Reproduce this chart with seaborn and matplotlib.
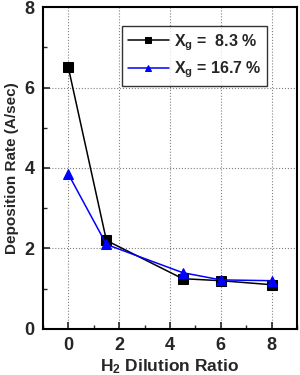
import numpy as np
import pandas as pd
import matplotlib
matplotlib.use("Agg")
import matplotlib.pyplot as plt
import seaborn as sb
from matplotlib.ticker import MultipleLocator

dilution = [0, 1.5, 4.5, 6, 8]
rate_83 = [6.5, 2.2, 1.25, 1.2, 1.1]
rate_167 = [3.85, 2.1, 1.4, 1.22, 1.2]
labels = ["X$_\\mathregular{g}$ =  8.3 %", "X$_\\mathregular{g}$ = 16.7 %"]

data = pd.DataFrame({
    "dilution": dilution * 2,
    "rate": rate_83 + rate_167,
    "series": [labels[0]] * 5 + [labels[1]] * 5,
})

sb.set_style("white")
plt.rcParams["font.family"] = ["Liberation Sans", "DejaVu Sans"]
plt.rcParams["font.weight"] = "bold"
plt.rcParams["mathtext.default"] = "regular"
plt.rcParams["mathtext.fontset"] = "custom"
plt.rcParams["mathtext.rm"] = "Liberation Sans:bold"
plt.rcParams["mathtext.sf"] = "Liberation Sans:bold"

fig = plt.figure(figsize=(3.0, 3.75), dpi=100)
ax = fig.add_axes([0.143, 0.1227, 0.847, 0.8586])

sb.lineplot(data=data, x="dilution", y="rate", hue="series", style="series",
            palette=["black", "blue"], markers=["s", "^"], dashes=False,
            markersize=7, linewidth=1.1, markeredgecolor=None, ax=ax)

ax.set_xlim(-1, 9)
ax.set_ylim(0, 8)
ax.xaxis.set_major_locator(MultipleLocator(2))
ax.xaxis.set_minor_locator(MultipleLocator(1))
ax.yaxis.set_major_locator(MultipleLocator(2))
ax.yaxis.set_minor_locator(MultipleLocator(1))
ax.tick_params(which="major", direction="in", length=5, width=1.2, labelsize=13,
               top=False, right=False, bottom=True, left=True, pad=6)
ax.tick_params(which="minor", direction="in", length=3, width=1.0,
               bottom=True, left=True)
ax.grid(True, which="major", linestyle=":", color="gray", linewidth=0.8)
for s in ax.spines.values():
    s.set_linewidth(1.5)
    s.set_color("black")
for t in ax.get_xticklabels() + ax.get_yticklabels():
    t.set_fontweight("bold")

ax.set_xlabel("H$_2$ Dilution Ratio", fontsize=12.5, fontweight="bold", labelpad=2)
ax.set_ylabel("Deposition Rate (A/sec)", fontsize=11, fontweight="bold", labelpad=4)

leg = ax.legend(loc="upper left", bbox_to_anchor=(0.311, 0.94), borderaxespad=0,
                frameon=True, fancybox=False, edgecolor="black", fontsize=11.5,
                handlelength=2.6, borderpad=0.35, labelspacing=0.45,
                handletextpad=0.3)
leg.get_frame().set_linewidth(1.0)
for h in leg.legend_handles:
    h.set_markersize(5)
for t in leg.get_texts():
    t.set_fontweight("bold")

plt.savefig("out.png", dpi=100)
